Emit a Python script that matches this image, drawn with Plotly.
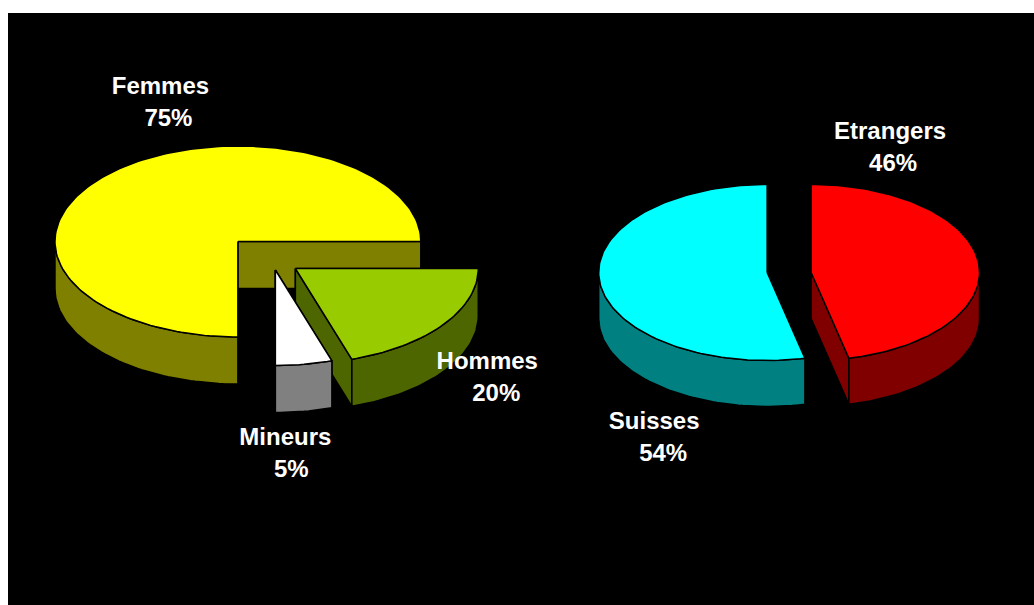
import math
import plotly.graph_objects as go

# Data
left_categories = ["Femmes", "Hommes", "Mineurs"]
left_values = [75, 20, 5]
right_categories = ["Etrangers", "Suisses"]
right_values = [46.4, 53.6]

# Styles / geometry
left_top = ["#FFFF00", "#99CC00", "#FFFFFF"]
left_wall = ["#808000", "#4D6600", "#808080"]
right_top = ["#FF0000", "#00FFFF"]
right_wall = ["#800000", "#008080"]
left_apex = [(237.5, 241.5), (295, 268.5), (275, 270)]
right_apex = [(811, 272.5), (767, 272.5)]
left_name_pos = [(160, 88), (487, 363), (285, 439)]
left_pct_pos = [(168, 120), (496, 395), (291, 471)]
right_name_pos = [(890, 133), (654, 423)]
right_pct_pos = [(893, 165), (663, 455)]

fig = go.Figure()


def pt(apex, rx, ry, deg, dy=0.0):
    a = math.radians(deg)
    return apex[0] + rx * math.cos(a), apex[1] + ry * math.sin(a) + dy


def poly(xs, ys, fill):
    fig.add_trace(go.Scatter(
        x=xs, y=ys, mode="lines", fill="toself", fillcolor=fill,
        line=dict(color="#000000", width=1.5), hoverinfo="skip",
        showlegend=False))


def arc(apex, rx, ry, d0, d1, dy=0.0):
    n = max(2, int(abs(d1 - d0) / 1.5) + 1)
    pts = [pt(apex, rx, ry, d0 + (d1 - d0) * i / (n - 1), dy) for i in range(n)]
    return [p[0] for p in pts], [p[1] for p in pts]


def pie(values, start, apexes, rx, ry, depth, tops, walls):
    cur = start
    for v, apex, top, wall in zip(values, apexes, tops, walls):
        sweep = v * 3.6
        end = cur + sweep
        # cut faces
        for d in (cur, end):
            p = pt(apex, rx, ry, d)
            poly([apex[0], p[0], p[0], apex[0], apex[0]],
                 [apex[1], p[1], p[1] + depth, apex[1] + depth, apex[1]], wall)
        # outer rim: front half only
        for k in (0, 360):
            lo, hi = max(cur, k), min(end, k + 180)
            if hi > lo:
                x0, y0 = arc(apex, rx, ry, lo, hi)
                x1, y1 = arc(apex, rx, ry, hi, lo, depth)
                poly(x0 + x1 + x0[:1], y0 + y1 + y0[:1], wall)
        # top face
        xa, ya = arc(apex, rx, ry, cur, end)
        poly([apex[0]] + xa + [apex[0]], [apex[1]] + ya + [apex[1]], top)
        cur = end


pie(left_values, 90, left_apex, 183, 95.5, 47, left_top, left_wall)
pie(right_values, -90, right_apex, 168.5, 88, 46, right_top, right_wall)

names = left_categories + right_categories
vals = left_values + right_values
name_pos = left_name_pos + right_name_pos
pct_pos = left_pct_pos + right_pct_pos
fig.add_trace(go.Scatter(
    x=[p[0] for p in name_pos] + [p[0] for p in pct_pos],
    y=[p[1] for p in name_pos] + [p[1] for p in pct_pos],
    text=names + [f"{v:.0f}%" for v in vals],
    mode="text", textposition="middle center",
    textfont=dict(family="Liberation Sans", size=24, color="#FFFFFF", weight="bold"),
    hoverinfo="skip", showlegend=False))

fig.update_layout(
    width=1034, height=605,
    margin=dict(l=7.5, r=0, t=13, b=0, pad=0),
    paper_bgcolor="#FFFFFF", plot_bgcolor="#000000",
    xaxis=dict(range=[7.5, 1034], visible=False, fixedrange=True),
    yaxis=dict(range=[605, 13], visible=False, fixedrange=True),
    showlegend=False,
)
fig.write_html(
    "out.html",
    config={"displayModeBar": False},
    post_script="document.body.style.margin='0';document.documentElement.style.overflow='hidden';window.dispatchEvent(new Event('resize'));",
)
